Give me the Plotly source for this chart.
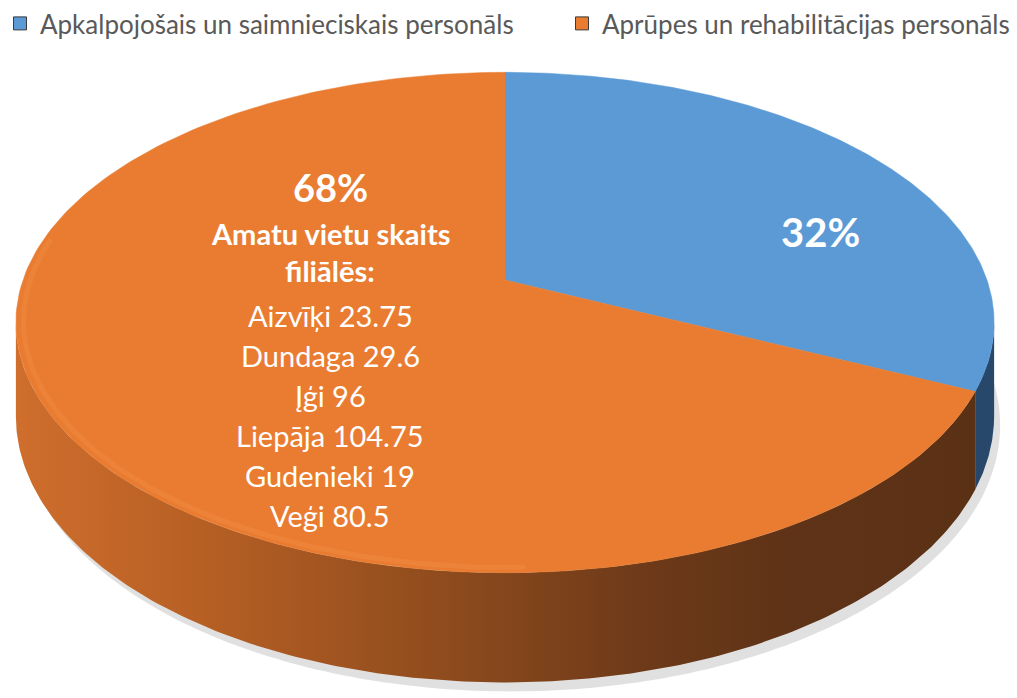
import math
import plotly.graph_objects as go

# ---- data ----
categories = ["Apkalpojošais un saimnieciskais personāls", "Aprūpes un rehabilitācijas personāls"]
shares = [32, 68]
branch_names = ["Aizvīķi", "Dundaga", "Įģi", "Liepāja", "Gudenieki", "Veģi"]
branch_values = ["23.75", "29.6", "96", "104.75", "19", "80.5"]

# ---- style / geometry ----
top_colors = ["#5B9AD5", "#E97C30"]
wall_blue = "#27486A"
orange_wall_scale = [[0, "#CF6E2D"], [0.2, "#B65F24"], [0.45, "#8E4B1D"],
                     [0.65, "#6E3A19"], [0.8, "#5F3317"], [1, "#5B3116"]]
W, HGT = 1017, 698
CX, CY = 505, 280      # pie centre (pixels)
A, B = 482, 243        # horizontal / depth radii
K = 0.17               # perspective factor
H = 91                 # thickness
FONT = "Lato"


def proj(t_deg, drop=0.0, scale=1.0):
    t = math.radians(t_deg)
    u, v = math.sin(t) * scale, math.cos(t) * scale
    s = 1.0 / (1.0 + K * v)
    return CX + A * u * s, CY - B * v * s + drop * s


def arc(t0, t1, drop=0.0, n=200, scale=1.0):
    xs, ys = [], []
    for i in range(n + 1):
        t = t0 + (t1 - t0) * i / n
        x, y = proj(t, drop, scale)
        xs.append(x)
        ys.append(y)
    return xs, ys


total = sum(shares)
bounds = [0]
for v in shares:
    bounds.append(bounds[-1] + 360.0 * v / total)

t_sil = math.degrees(math.acos(-K))  # silhouette angle
fig = go.Figure()

# shadow
sx, sy = arc(t_sil - 10, 360 - t_sil + 10, H)
fig.add_trace(go.Scatter(x=[x + 6 for x in sx] + [CX], y=[y + 9 for y in sy] + [CY + H],
                         fill="toself", mode="none", fillcolor="rgba(0,0,0,0.12)",
                         showlegend=False, hoverinfo="skip"))


def wall(t0, t1, **kw):
    tx, ty = arc(t0, t1)
    bx, by = arc(t1, t0, H)
    fig.add_trace(go.Scatter(x=tx + bx + [tx[0]], y=ty + by + [ty[0]], fill="toself",
                             mode="lines", line=dict(width=0.5, color="rgba(0,0,0,0)"),
                             showlegend=False, hoverinfo="skip", **kw))


b1 = bounds[1]
wall(t_sil, b1, fillcolor=wall_blue)
wall(b1, 360 - t_sil, fillcolor="#8E4B1D",
     fillgradient=dict(type="horizontal", colorscale=orange_wall_scale))

# top faces
for i in range(len(shares)):
    xs, ys = arc(bounds[i], bounds[i + 1])
    fig.add_trace(go.Scatter(x=[CX] + xs + [CX], y=[CY] + ys + [CY], fill="toself",
                             mode="lines", line=dict(width=0.5, color=top_colors[i]),
                             fillcolor=top_colors[i], showlegend=False, hoverinfo="skip"))

# soft rim highlight on the front-left edge
hx, hy = arc(178, 280, scale=0.985)
fig.add_trace(go.Scatter(x=hx, y=hy, mode="lines", line=dict(color="#F7924A", width=5),
                         opacity=0.35, showlegend=False, hoverinfo="skip"))

# legend entries (two separate legends to reproduce spacing)
for i, (name, col) in enumerate(zip(categories, top_colors)):
    fig.add_trace(go.Scatter(x=[None], y=[None], mode="markers", name=name,
                             legend="legend" if i == 0 else "legend2",
                             marker=dict(symbol="square", size=13, color=col,
                                         line=dict(width=1, color="#3a3a3a"))))


def label(x, y, text, size, bold=False):
    fig.add_annotation(x=x, y=y, text=f"<b>{text}</b>" if bold else text, showarrow=False,
                       font=dict(family=FONT, size=size, color="white"),
                       xanchor="center", yanchor="middle")


label(820, 232, f"{shares[0]}%", 40, True)
label(330, 187, f"{shares[1]}%", 38, True)
label(330, 233, "Amatu vietu skaits", 29, True)
label(330, 270, "filiālēs:", 29, True)
for i, (n, v) in enumerate(zip(branch_names, branch_values)):
    label(330, 315 + i * 40, f"{n} {v}", 29)

leg_common = dict(orientation="h", xanchor="left", yanchor="top", y=1.0,
                  font=dict(family=FONT, size=26, color="#595959"),
                  bgcolor="rgba(0,0,0,0)")
fig.update_layout(
    width=W, height=HGT, margin=dict(l=0, r=0, t=0, b=0),
    paper_bgcolor="white", plot_bgcolor="white",
    xaxis=dict(range=[0, W], visible=False, fixedrange=True),
    yaxis=dict(range=[HGT, 0], visible=False, fixedrange=True),
    legend=dict(x=0.0, **leg_common),
    legend2=dict(x=562 / W, **leg_common),
    showlegend=True,
)

fig.write_html("out.html", config={"displayModeBar": False},
               post_script="document.body.style.margin='0';")
